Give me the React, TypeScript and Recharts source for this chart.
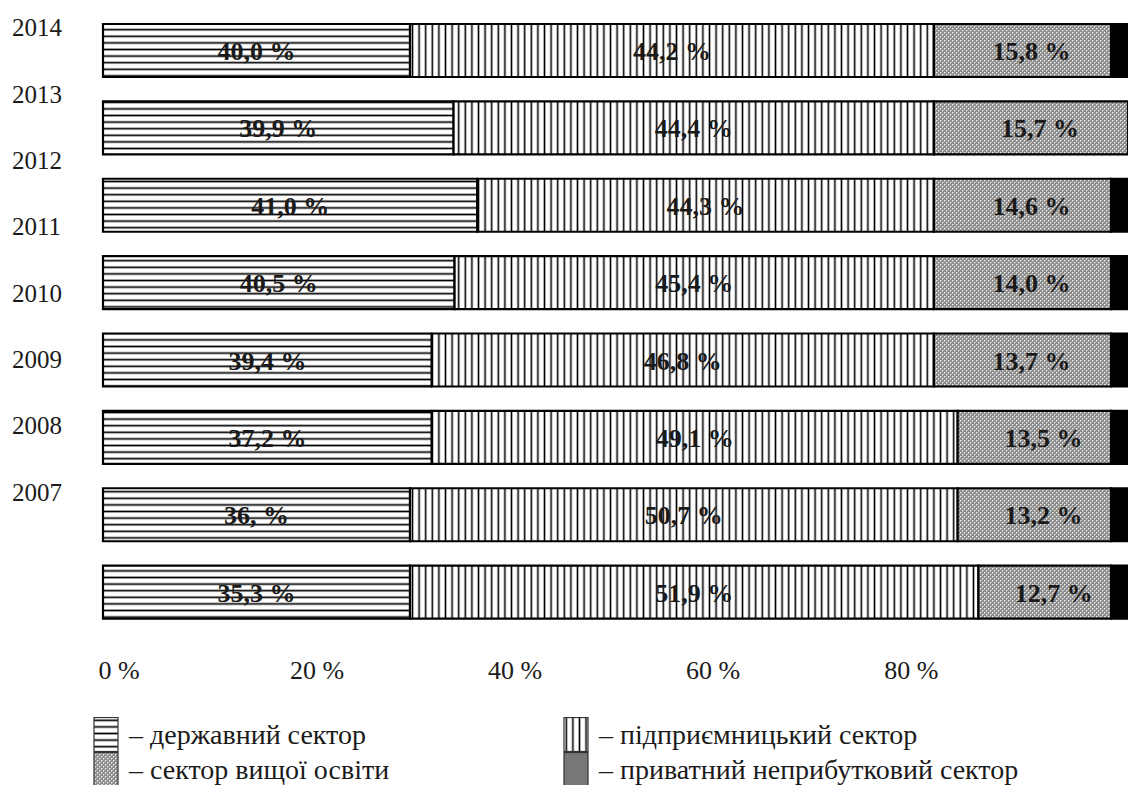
import { FC } from 'react';
import { BarChart, Bar, XAxis, YAxis, LabelList } from 'recharts';

const years = ['2014', '2013', '2012', '2011', '2010', '2009', '2008', '2007'];

// segment widths as drawn in the picture (axis units)
const govShare = [31.0, 35.4, 37.8, 35.5, 33.2, 33.2, 31.0, 31.0];
const bizShare = [52.9, 48.5, 46.1, 48.4, 50.7, 53.1, 55.3, 57.4];
const eduShare = [17.9, 19.6, 17.9, 17.9, 17.9, 15.5, 15.5, 13.4];
const privShare = [1.7, 0, 1.7, 1.7, 1.7, 1.7, 1.7, 1.7];

// printed labels
const govLabels = ['40,0 %', '39,9 %', '41,0 %', '40,5 %', '39,4 %', '37,2 %', '36, %', '35,3 %'];
const bizLabels = ['44,2 %', '44,4 %', '44,3 %', '45,4 %', '46,8 %', '49,1 %', '50,7 %', '51,9 %'];
const eduLabels = ['15,8 %', '15,7 %', '14,6 %', '14,0 %', '13,7 %', '13,5 %', '13,2 %', '12,7 %'];

const xTicks = [0, 20, 40, 60, 80];

const sectorNames = [
	'державний сектор',
	'підприємницький сектор',
	'сектор вищої освіти',
	'приватний неприбутковий сектор',
];

const data = years.map((year, i) => ({
	year,
	gov: govShare[i],
	biz: bizShare[i],
	edu: eduShare[i],
	priv: privShare[i],
}));

const FONT = "'Liberation Serif', 'Times New Roman', serif";
const INK = '#1a1a1a';

const Patterns: FC = () => (
	<svg width={0} height={0} style={{ position: 'absolute' }}>
		<defs>
			<pattern id='hLines' width={8} height={6.6} patternUnits='userSpaceOnUse'>
				<rect width={8} height={6.6} fill='#fff' />
				<line x1={0} y1={3.3} x2={8} y2={3.3} stroke='#000' strokeWidth={1.7} />
			</pattern>
			<pattern id='vLines' width={6.6} height={8} patternUnits='userSpaceOnUse'>
				<rect width={6.6} height={8} fill='#fff' />
				<line x1={3.3} y1={0} x2={3.3} y2={8} stroke='#000' strokeWidth={1.6} />
			</pattern>
			<pattern id='cross' width={4} height={4} patternUnits='userSpaceOnUse'>
				<rect width={4} height={4} fill='#8e8e8e' />
				<rect x={0} y={0} width={1.5} height={1.5} fill='#ececec' />
				<rect x={2} y={2} width={1.5} height={1.5} fill='#ececec' />
				<rect x={1.4} y={1.4} width={0.7} height={0.7} fill='#444' />
				<rect x={3.4} y={3.4} width={0.6} height={0.6} fill='#444' />
			</pattern>
		</defs>
	</svg>
);

const fills = ['url(#hLines)', 'url(#vLines)', 'url(#cross)', '#777'];

const YearTick = ({ y, index, payload }: any) => (
	<text
		x={12}
		y={y - 23 - 11.03 * index}
		dominantBaseline='central'
		fontFamily={FONT}
		fontSize={25}
		fill={INK}
	>
		{payload.value}
	</text>
);

const PercentTick = ({ x, y, payload }: any) => (
	<text x={x + 16} y={y + 48} textAnchor='middle' fontFamily={FONT} fontSize={26} fill={INK}>
		{`${payload.value} %`}
	</text>
);

const makeLabel = (texts: string[], shift: number) => (props: any) => {
	const { x, y, width, height, index } = props;
	return (
		<text
			x={x + width / 2 + shift}
			y={y + height / 2 + 1}
			textAnchor='middle'
			dominantBaseline='central'
			fontFamily={FONT}
			fontSize={26}
			fontWeight='bold'
			fill={INK}
		>
			{texts[index]}
		</text>
	);
};

const legendItems = [
	{ name: sectorNames[0], fill: fills[0], left: 93, top: 717 },
	{ name: sectorNames[2], fill: fills[2], left: 93, top: 752 },
	{ name: sectorNames[1], fill: fills[1], left: 563, top: 717 },
	{ name: sectorNames[3], fill: fills[3], left: 563, top: 752 },
];

const App: FC = () => {
	return (
		<div
			style={{
				position: 'absolute',
				left: 0,
				top: 0,
				width: 1128,
				height: 785,
				overflow: 'hidden',
				background: '#fff',
			}}
		>
			<Patterns />
			<BarChart
				width={1128}
				height={785}
				data={data}
				layout='vertical'
				margin={{ top: 12, right: 0, bottom: 114, left: 0 }}
			>
				<XAxis
					type='number'
					domain={[0, 103.5]}
					ticks={xTicks}
					axisLine={false}
					tickLine={false}
					tickSize={0}
					tickMargin={0}
					height={40}
					tick={PercentTick}
					interval={0}
				/>
				<YAxis
					type='category'
					dataKey='year'
					width={103}
					axisLine={false}
					tickLine={false}
					tickSize={0}
					tick={YearTick}
					interval={0}
				/>
				<Bar dataKey='gov' stackId='s' barSize={53} fill={fills[0]} stroke='#000' strokeWidth={2.2} isAnimationActive={false}>
					<LabelList dataKey='gov' content={makeLabel(govLabels, 0)} />
				</Bar>
				<Bar dataKey='biz' stackId='s' barSize={53} fill={fills[1]} stroke='#000' strokeWidth={2.2} isAnimationActive={false}>
					<LabelList dataKey='biz' content={makeLabel(bizLabels, 0)} />
				</Bar>
				<Bar dataKey='edu' stackId='s' barSize={53} fill={fills[2]} stroke='#000' strokeWidth={2.2} isAnimationActive={false}>
					<LabelList dataKey='edu' content={makeLabel(eduLabels, 9)} />
				</Bar>
				<Bar dataKey='priv' stackId='s' barSize={53} fill='#000' stroke='#000' strokeWidth={2.2} isAnimationActive={false} />
			</BarChart>

			{legendItems.map((item, index) => (
				<div
					key={`legend-${index}`}
					style={{
						position: 'absolute',
						left: item.left,
						top: item.top,
						height: 35,
						display: 'flex',
						alignItems: 'center',
						fontFamily: FONT,
						fontSize: 28,
						color: INK,
						whiteSpace: 'nowrap',
					}}
				>
					<svg width={26} height={35} style={{ display: 'block' }}>
						<rect x={1} y={0.5} width={24} height={34} fill={item.fill} stroke='#333' strokeWidth={1.2} />
					</svg>
					<span style={{ marginLeft: 10 }}>– {item.name}</span>
				</div>
			))}
		</div>
	);
};

export default App;
